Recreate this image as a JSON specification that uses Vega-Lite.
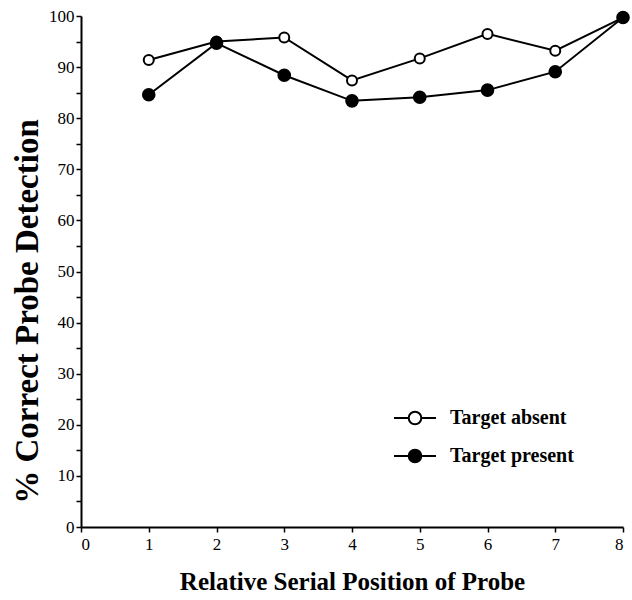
{
  "$schema": "https://vega.github.io/schema/vega-lite/v6.json",
  "width": 542,
  "height": 511,
  "autosize": {"type": "none"},
  "padding": {"left": 81, "top": 16, "right": 9, "bottom": 73},
  "background": "white",
  "config": {
    "view": {"stroke": null},
    "font": "Liberation Serif",
    "axis": {"grid": false, "domainColor": "black", "domainWidth": 2, "tickColor": "black", "tickWidth": 1.5, "labelColor": "black", "labelFont": "Liberation Serif", "labelFontSize": 17, "titleFont": "Liberation Serif", "titleFontWeight": "bold", "titleColor": "black"}
  },
  "data": {
    "values": [
      {"pos": 1, "pct": 91.4, "series": "Target absent"},
      {"pos": 2, "pct": 95.0, "series": "Target absent"},
      {"pos": 3, "pct": 95.8, "series": "Target absent"},
      {"pos": 4, "pct": 87.4, "series": "Target absent"},
      {"pos": 5, "pct": 91.7, "series": "Target absent"},
      {"pos": 6, "pct": 96.5, "series": "Target absent"},
      {"pos": 7, "pct": 93.2, "series": "Target absent"},
      {"pos": 8, "pct": 99.7, "series": "Target absent"},
      {"pos": 1, "pct": 84.6, "series": "Target present"},
      {"pos": 2, "pct": 94.7, "series": "Target present"},
      {"pos": 3, "pct": 88.4, "series": "Target present"},
      {"pos": 4, "pct": 83.4, "series": "Target present"},
      {"pos": 5, "pct": 84.1, "series": "Target present"},
      {"pos": 6, "pct": 85.5, "series": "Target present"},
      {"pos": 7, "pct": 89.1, "series": "Target present"},
      {"pos": 8, "pct": 99.7, "series": "Target present"}
    ]
  },
  "encoding": {
    "x": {"field": "pos", "type": "quantitative", "scale": {"domain": [0, 8], "nice": false},
      "axis": {"values": [0,1,2,3,4,5,6,7,8], "tickSize": 5, "labelPadding": 4, "title": "Relative Serial Position of Probe", "titleFontSize": 25, "titleX": 271, "titleY": 62, "titleAlign": "center", "titleBaseline": "alphabetic"}},
    "y": {"field": "pct", "type": "quantitative", "scale": {"domain": [0, 100], "nice": false},
      "axis": {"values": [0,5,10,15,20,25,30,35,40,45,50,55,60,65,70,75,80,85,90,95,100], "labelExpr": "datum.value % 10 === 0 ? datum.label : ''", "tickSize": 5, "labelPadding": 2, "title": "% Correct Probe Detection", "titleFontSize": 33, "titleAngle": -90, "titleX": -44, "titleY": 295, "titleAlign": "center", "titleBaseline": "alphabetic"}}
  },
  "layer": [
    {
      "mark": {"type": "line", "color": "black", "strokeWidth": 2},
      "encoding": {"detail": {"field": "series", "type": "nominal"}}
    },
    {
      "transform": [{"filter": "datum.series === 'Target absent'"}],
      "mark": {"type": "point", "shape": "circle", "stroke": "black", "strokeWidth": 2, "opacity": 1, "size": 100},
      "encoding": {
        "fill": {"field": "series", "type": "nominal", "scale": {"domain": ["Target absent", "Target present"], "range": ["white", "black"]},
          "legend": {"orient": "none", "legendX": 312, "legendY": 380, "title": null, "symbolType": "M-1,0H-0.3M0.3,0H1M-0.3,0A0.3,0.3 0 1,0 0.3,0A0.3,0.3 0 1,0 -0.3,0Z", "symbolSize": 1764, "symbolStrokeColor": "black", "symbolStrokeWidth": 2, "symbolOpacity": 1, "labelFont": "Liberation Serif", "labelFontSize": 20, "labelFontWeight": "bold", "labelColor": "black", "labelOffset": 13, "rowPadding": 5}}
      }
    },
    {
      "transform": [{"filter": "datum.series === 'Target present'"}],
      "mark": {"type": "point", "shape": "circle", "stroke": "black", "strokeWidth": 2, "opacity": 1, "size": 135},
      "encoding": {
        "fill": {"field": "series", "type": "nominal"}
      }
    }
  ]
}
